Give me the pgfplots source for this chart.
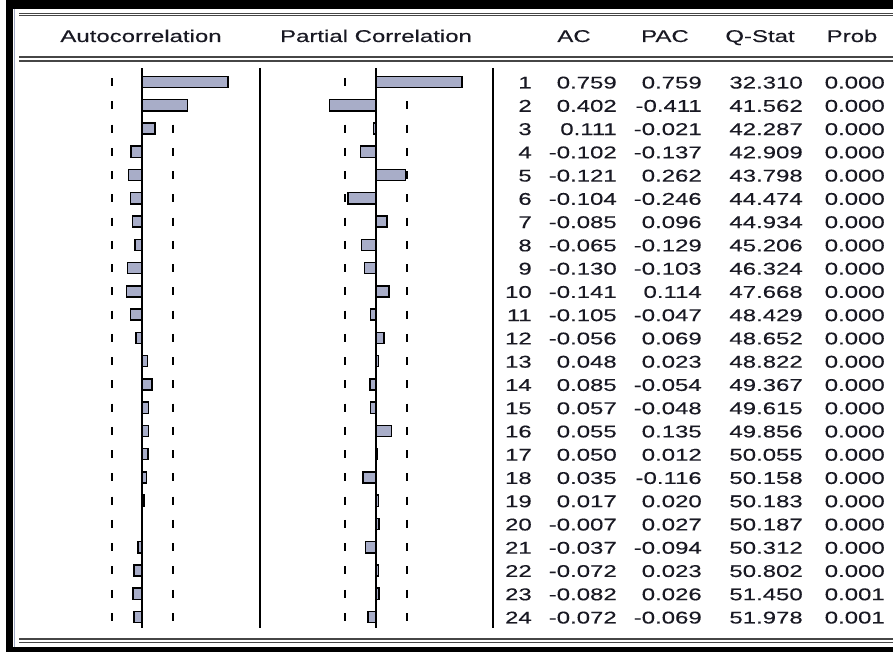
\documentclass[border=0pt]{standalone}
\usepackage{pgfplots}
\usepackage{pgfplotstable}
\pgfplotsset{compat=1.18}
\usepackage{fontspec}
\setmainfont{Liberation Sans}
\newfontfamily\wfont[FakeStretch=1.41,FakeBold=0.3]{Liberation Sans}
\newcommand\tf{\wfont\fontsize{12.75pt}{15pt}\selectfont}
\definecolor{barfill}{RGB}{168,173,200}
\definecolor{rulec}{RGB}{70,70,70}
\definecolor{edgec}{RGB}{160,168,195}
\definecolor{txt}{RGB}{25,25,35}

\pgfplotstableread{
lag ac pac q prob
1 0.759 0.759 32.310 0.000
2 0.402 -0.411 41.562 0.000
3 0.111 -0.021 42.287 0.000
4 -0.102 -0.137 42.909 0.000
5 -0.121 0.262 43.798 0.000
6 -0.104 -0.246 44.474 0.000
7 -0.085 0.096 44.934 0.000
8 -0.065 -0.129 45.206 0.000
9 -0.130 -0.103 46.324 0.000
10 -0.141 0.114 47.668 0.000
11 -0.105 -0.047 48.429 0.000
12 -0.056 0.069 48.652 0.000
13 0.048 0.023 48.822 0.000
14 0.085 -0.054 49.367 0.000
15 0.057 -0.048 49.615 0.000
16 0.055 0.135 49.856 0.000
17 0.050 0.012 50.055 0.000
18 0.035 -0.116 50.158 0.000
19 0.017 0.020 50.183 0.000
20 -0.007 0.027 50.187 0.000
21 -0.037 -0.094 50.312 0.000
22 -0.072 0.023 50.802 0.000
23 -0.082 0.026 51.450 0.001
24 -0.072 -0.069 51.978 0.001
}\data

\pgfplotsset{corr/.style={scale only axis, width=169.5pt, height=418.65pt,
  xmin=-1, xmax=1, ymin=0.5, ymax=24.5, y dir=reverse, hide axis, clip=false,
  anchor=north west},
  band/.style={black, line width=1.5pt, mark=none,
  dash pattern=on 6pt off 11.445pt, dash phase=11.7225pt}}

\begin{document}
\begin{tikzpicture}[x=0.75pt,y=-0.75pt]
\useasboundingbox (0,0) rectangle (893,652);
\coordinate (PA) at (29.3,70.4);
\coordinate (PB) at (263,70.4);
% frame
\fill[black] (6,0) rectangle (893,9.5);
\fill[black] (6,0) rectangle (13,652);
\fill[black] (6,647) rectangle (893,652);
\draw[edgec, line width=1.1pt] (14.3,9.5) -- (14.3,647);
\draw[rulec, line width=1.1pt] (19,13.3) -- (893,13.3);
\draw[rulec, line width=0.7pt] (19,15.9) -- (893,15.9);
\draw[rulec, line width=1.3pt] (19,57.2) -- (893,57.2);
\draw[rulec, line width=1.0pt] (19,61) -- (893,61);
\draw[rulec, line width=1.3pt] (19,639.2) -- (893,639.2);
\draw[rulec, line width=1.0pt] (19,642.8) -- (893,642.8);
% headers
\tikzset{tt/.style={font=\tf, text=txt, inner sep=0pt}}
\node[tt, anchor=base] at (141,42) {Autocorrelation};
\node[tt, anchor=base] at (376,42) {Partial Correlation};
\node[tt, anchor=base] at (574,42) {AC};
\node[tt, anchor=base] at (665,42) {PAC};
\node[tt, anchor=base] at (760,42) {Q-Stat};
\node[tt, anchor=base] at (852,42) {Prob};
% separators
\draw[black, line width=1.5pt] (260,68) -- (260,628);
\draw[black, line width=1.5pt] (493,68) -- (493,628);

% ACF
\begin{axis}[corr, at={(PA)}]
\addplot[band] coordinates {(-0.2722,0.5) (-0.2722,24.5)};
\addplot[band] coordinates {(0.2722,0.5) (0.2722,24.5)};
\addplot[xbar, bar width=0.48, fill=barfill, draw=black, line width=1.1pt] table[x=ac, y=lag]{\data};
\addplot[black, line width=1.5pt, mark=none] coordinates {(0,0.397) (0,24.47)};
\end{axis}

% PACF
\begin{axis}[corr, at={(PB)}]
\addplot[band] coordinates {(-0.2722,0.5) (-0.2722,24.5)};
\addplot[band] coordinates {(0.2722,0.5) (0.2722,24.5)};
\addplot[xbar, bar width=0.48, fill=barfill, draw=black, line width=1.1pt] table[x=pac, y=lag]{\data};
\addplot[black, line width=1.5pt, mark=none] coordinates {(0,0.397) (0,24.47)};
\end{axis}

% table text
\foreach \i in {0,...,23}{
  \pgfmathsetmacro\yy{88.5+\i*23.26}
  \pgfplotstablegetelem{\i}{lag}\of\data
  \node[tt, anchor=base east] at (532,\yy) {\pgfplotsretval};
  \pgfplotstablegetelem{\i}{ac}\of\data
  \node[tt, anchor=base east] at (617,\yy) {\pgfplotsretval};
  \pgfplotstablegetelem{\i}{pac}\of\data
  \node[tt, anchor=base east] at (702,\yy) {\pgfplotsretval};
  \pgfplotstablegetelem{\i}{q}\of\data
  \node[tt, anchor=base east] at (803,\yy) {\pgfplotsretval};
  \pgfplotstablegetelem{\i}{prob}\of\data
  \node[tt, anchor=base east] at (885,\yy) {\pgfplotsretval};
}
\end{tikzpicture}
\end{document}
